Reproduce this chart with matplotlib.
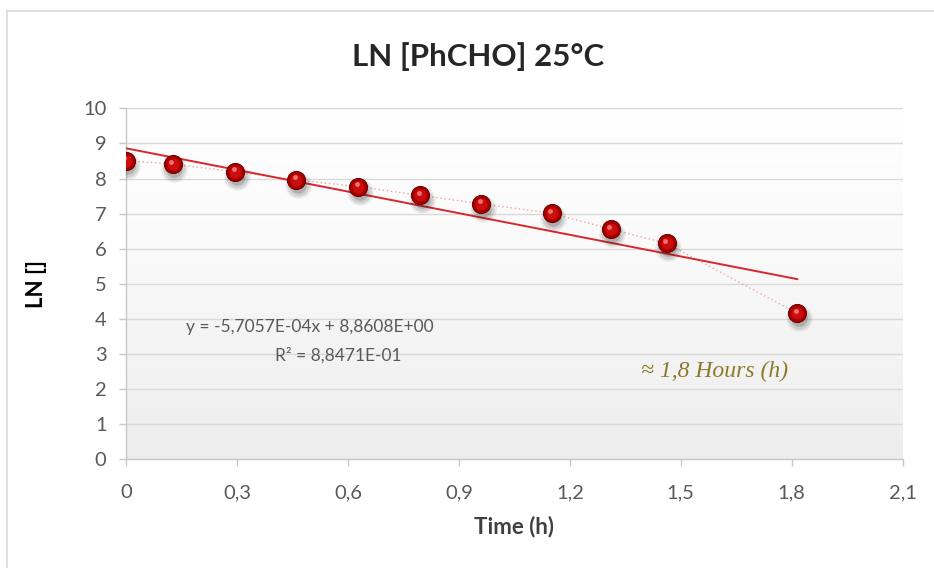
import numpy as np
import matplotlib
matplotlib.use("Agg")
import matplotlib.pyplot as plt
from matplotlib.transforms import offset_copy
from matplotlib.lines import Line2D
from matplotlib.colors import LinearSegmentedColormap

# ---- data ----
time_h = [0.0, 0.126, 0.295, 0.460, 0.628, 0.795, 0.960, 1.151, 1.310, 1.462, 1.815]
ln_c = [8.51, 8.41, 8.19, 7.96, 7.77, 7.52, 7.28, 7.01, 6.56, 6.15, 4.16]
slope_per_s = -5.7057e-04
intercept = 8.8608
r2_text = "R² = 8,8471E-01"
eq_text = "y = -5,7057E-04x + 8,8608E+00"
x_ticks = [0, 0.3, 0.6, 0.9, 1.2, 1.5, 1.8, 2.1]
x_tick_labels = ["0", "0,3", "0,6", "0,9", "1,2", "1,5", "1,8", "2,1"]
y_ticks = list(range(0, 11))
title = "LN [PhCHO] 25°C"
xlabel = "Time (h)"
ylabel = "LN []"
note = "≈ 1,8 Hours (h)"

plt.rcParams['font.family'] = ['Lato', 'DejaVu Sans']

fig = plt.figure(figsize=(9.34, 5.68), dpi=100)
ax = fig.add_axes([126/934, 1-459.3/568, (902.7-126)/934, (459.3-108.3)/568])

# chart border (top and left visible)
fig.add_artist(Line2D([7/934, 1.0], [1-11/568, 1-11/568], transform=fig.transFigure, color='#d9d9d9', lw=1.2))
fig.add_artist(Line2D([7/934, 7/934], [0, 1-11/568], transform=fig.transFigure, color='#d9d9d9', lw=1.2))

ax.set_xlim(0, 2.1)
ax.set_ylim(0, 10)

# gradient background
grad = np.linspace(0, 1, 256).reshape(-1, 1)
cmap = LinearSegmentedColormap.from_list('bg', [(0, '#ededed'), (0.6, '#fafafa'), (1, '#ffffff')])
ax.imshow(grad, extent=[0, 1, 0, 1], transform=ax.transAxes, aspect='auto',
          cmap=cmap, origin='lower', zorder=0)
ax.set_facecolor('white')

ax.set_xticks(x_ticks)
ax.set_xticklabels(x_tick_labels)
ax.set_yticks(y_ticks)
ax.grid(axis='y', color='#d9d9d9', lw=1.0, zorder=1)
ax.set_axisbelow(True)
for s in ['top', 'right']:
    ax.spines[s].set_visible(False)
for s in ['left', 'bottom']:
    ax.spines[s].set_color('#c8c8c8')
    ax.spines[s].set_linewidth(1.0)
ax.tick_params(axis='both', colors='#c8c8c8', labelcolor='#595959', labelsize=14.5,
               length=5, width=1.0, direction='out')
ax.tick_params(axis='x', pad=13)
ax.tick_params(axis='y', pad=9)

# dotted connecting line
ax.plot(time_h, ln_c, linestyle=(0, (1, 2)), color='#f2a0a0', lw=1.0, zorder=2)

# trendline
slope_h = slope_per_s * 3600
xt = np.array([0, max(time_h)])
ax.plot(xt, intercept + slope_h * xt, color='#d9262b', lw=1.4, zorder=3)

# markers: shadow, sphere, highlight
for al, ms in [(0.08, 19), (0.12, 16), (0.18, 12)]:
    tr = offset_copy(ax.transData, fig=fig, x=1.5, y=-5, units='dots')
    ax.plot(time_h, ln_c, 'o', ms=ms, color='#202020', alpha=al, mec='none',
            transform=tr, zorder=4)
ax.plot(time_h, ln_c, 'o', ms=13, color='#a80000', mec='#700000', mew=0.8, zorder=5)
ax.plot(time_h, ln_c, 'o', ms=8.5, color='#cc0d0d', mec='none', zorder=6)
trh = offset_copy(ax.transData, fig=fig, x=-1.5, y=2.5, units='dots')
ax.plot(time_h, ln_c, 'o', ms=3.5, color='#f07070', mec='none', transform=trh, zorder=7)

# equation
ax.text(0.497, 3.77, eq_text, ha='center', va='center', color='#595959', fontsize=12.5, zorder=8)
ax.text(0.573, 2.97, r2_text, ha='center', va='center', color='#595959', fontsize=12.5, zorder=8)

# note
ax.text(1.590, 2.49, note, ha='center', va='center', color='#8c7a2a', fontsize=17,
        style='italic', family=['Liberation Serif', 'DejaVu Serif'], zorder=8)

fig.text(478/934, 1-57/568, title, ha='center', va='center', fontsize=22.5,
         fontweight='bold', color='#262626')
ax.set_xlabel(xlabel, fontsize=16, fontweight='bold', color='#404040', labelpad=10)
ax.set_ylabel(ylabel, fontsize=16, fontweight='bold', color='#000000', labelpad=26)

fig.savefig('out.png', dpi=100, facecolor='white')
